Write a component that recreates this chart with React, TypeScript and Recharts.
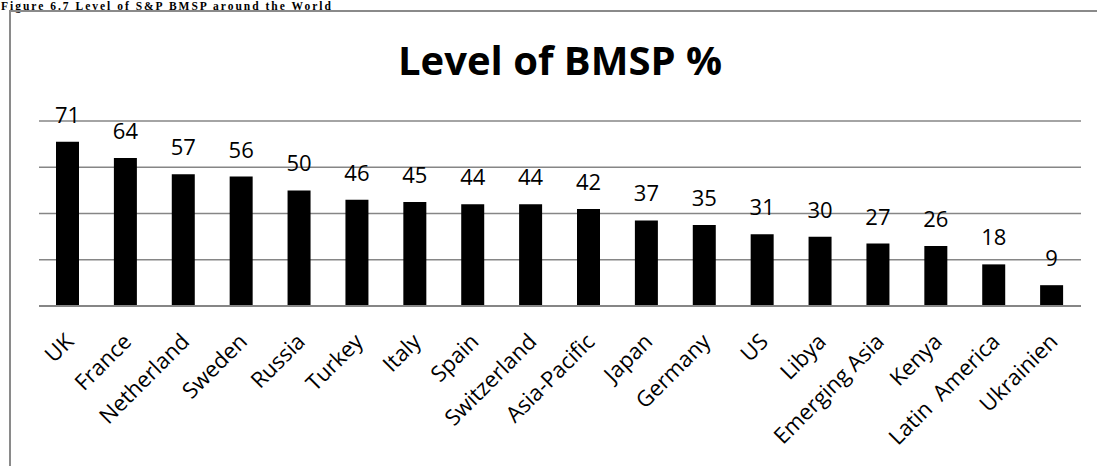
import React from "react";
import { BarChart, Bar, XAxis, YAxis, CartesianGrid, LabelList } from "recharts";

const countries = [
  "UK",
  "France",
  "Netherland",
  "Sweden",
  "Russia",
  "Turkey",
  "Italy",
  "Spain",
  "Switzerland",
  "Asia-Pacific",
  "Japan",
  "Germany",
  "US",
  "Libya",
  "Emerging Asia",
  "Kenya",
  "Latin  America",
  "Ukrainien",
];

const bmspLevels = [71, 64, 57, 56, 50, 46, 45, 44, 44, 42, 37, 35, 31, 30, 27, 26, 18, 9];

const gridTicks = [0, 20, 40, 60, 80];

const data = countries.map((country, i) => ({ country, value: bmspLevels[i] }));

const FONT = "'Open Sans', sans-serif";

const CountryTick = (props: any) => {
  const { x, y, payload } = props;
  return (
    <g transform={`translate(${x + 7},${y + 37})`}>
      <text
        x={0}
        y={0}
        textAnchor="end"
        transform="rotate(-45)"
        fontFamily={FONT}
        fontSize={22}
        fill="#000"
        style={{ whiteSpace: "pre" }}
      >
        {payload.value}
      </text>
    </g>
  );
};

export default function App() {
  return (
    <div
      style={{
        position: "absolute",
        left: 0,
        top: 0,
        width: 1097,
        height: 466,
        overflow: "hidden",
        background: "#fff",
      }}
    >
      {/* figure caption squeezed above the chart box */}
      <div
        style={{
          position: "absolute",
          left: 1,
          top: 0,
          fontFamily: "'Liberation Serif', 'Times New Roman', serif",
          fontWeight: 700,
          fontSize: 11.5,
          lineHeight: "13px",
          letterSpacing: 2,
          whiteSpace: "nowrap",
          color: "#000",
        }}
      >
        Figure 6.7 Level of S&amp;P BMSP around the World
      </div>

      {/* chart frame */}
      <div
        style={{
          position: "absolute",
          left: 9,
          top: 10,
          width: 1200,
          height: 600,
          border: "2px solid #8a8a8a",
          boxSizing: "border-box",
        }}
      />

      <div
        style={{
          position: "absolute",
          left: 0,
          top: 40,
          width: 1120,
          textAlign: "center",
          fontFamily: FONT,
          fontWeight: 700,
          fontSize: 40,
          lineHeight: "39px",
          color: "#000",
        }}
      >
        Level of BMSP %
      </div>

      <div style={{ position: "absolute", left: 0, top: 0 }}>
        <BarChart
          width={1097}
          height={466}
          data={data}
          margin={{ top: 121, right: 16, bottom: 0, left: 39 }}
          barCategoryGap="30%"
        >
          <CartesianGrid vertical={false} stroke="#868686" strokeWidth={1.5} />
          <YAxis hide domain={[0, 80]} ticks={gridTicks} />
          <XAxis
            dataKey="country"
            interval={0}
            height={160}
            tickLine={false}
            tickSize={0}
            tickMargin={0}
            axisLine={{ stroke: "#868686", strokeWidth: 2 }}
            tick={<CountryTick />}
          />
          <Bar dataKey="value" fill="#000" barSize={23} isAnimationActive={false}>
            <LabelList
              dataKey="value"
              position="top"
              offset={19}
              fontFamily={FONT}
              fontSize={22}
              fill="#000"
            />
          </Bar>
        </BarChart>
      </div>
    </div>
  );
}
